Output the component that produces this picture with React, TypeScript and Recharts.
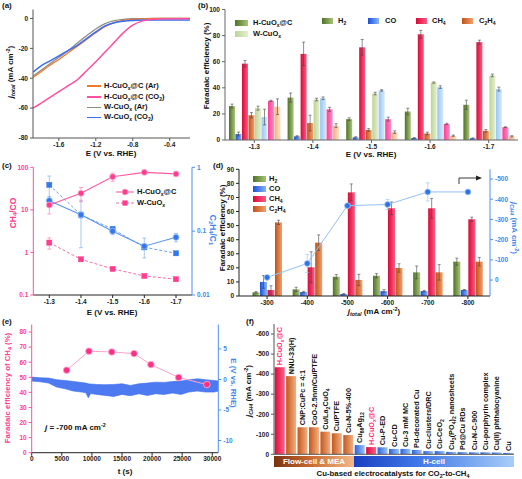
import React from 'react';
import { LineChart, Line, BarChart, Bar, ComposedChart, Area, XAxis, YAxis, ErrorBar, LabelList, Cell } from 'recharts';

const FONT = '"Liberation Sans", Arial, Helvetica, sans-serif';

// ---------- (a) LSV curves ----------
const lsvPotential = [-1.88, -1.8, -1.7, -1.6, -1.5, -1.4, -1.3, -1.2, -1.1, -1.0, -0.9, -0.8, -0.7, -0.6, -0.5, -0.4, -0.3, -0.18];
const lsvH_CO2 = [-60, -57, -53, -49, -45, -41, -35, -29, -22.5, -16, -9.5, -4.5, -1.8, -0.7, -0.3, -0.2, -0.2, -0.2];
const lsvH_Ar = [-39.5, -36, -31.5, -27.5, -23, -18.5, -14, -9.5, -5.5, -2.8, -1.3, -0.6, -0.3, -0.1, 0, 0, 0, 0];
const lsvW_Ar = [-38.5, -35, -30.5, -26, -21.5, -16.5, -11.5, -7, -3.5, -1.5, -0.6, -0.2, -0.1, 0, 0, 0, 0, 0];
const lsvW_CO2 = [-36, -32, -28.5, -25, -21.5, -18, -13.5, -9, -5, -2.8, -1.8, -1.3, -1.1, -1.1, -1.1, -1.1, -1.1, -1.1];
const lsvXTicks = [-1.6, -1.2, -0.8, -0.4];
const lsvYTicks = [-80, -60, -40, -20, 0];

// ---------- (b) FE vs potential ----------
const potentialsB = ['-1.3', '-1.4', '-1.5', '-1.6', '-1.7'];
const feH_H2 = [26, 32.5, 16, 21.8, 27];
const feH_CO = [4.6, 2.8, 2, 1.5, 1.3];
const feH_CH4 = [58.5, 66, 71, 81, 75];
const feH_C2H4 = [19, 13, 7.7, 5, 7];
const feW_H2 = [24.4, 31, 35.6, 44, 49.5];
const feW_CO = [17.6, 32, 38, 40.5, 39];
const feW_CH4 = [30, 23.5, 16, 12.3, 9.8];
const feW_C2H4 = [25.5, 11, 6, 3.3, 2.8];
const errH_H2 = [1.5, 3.5, 1, 2.5, 3.5];
const errH_CO = [1.5, 0.5, 0.5, 0.3, 0.3];
const errH_CH4 = [2.5, 9, 6, 3, 1.5];
const errH_C2H4 = [2, 6, 1, 1, 1];
const errW_H2 = [1.5, 1, 1, 0.5, 1];
const errW_CO = [6, 1, 0.5, 1, 1.5];
const errW_CH4 = [0.5, 1.5, 1.5, 0.5, 0.3];
const errW_C2H4 = [6, 1.5, 1, 0.5, 0.5];
const feTicksB = [0, 20, 40, 60, 80, 100];

// ---------- (c) product ratios ----------
const potentialsC = ['-1.3', '-1.4', '-1.5', '-1.6', '-1.7'];
const ratioCH4CO_H = [13, 24.5, 60, 76, 70];
const ratioCH4CO_W = [1.7, 0.69, 0.41, 0.28, 0.235];
const ratioC2C1_H = [0.3, 0.18, 0.1, 0.058, 0.08];
const ratioC2C1_W = [0.53, 0.18, 0.108, 0.056, 0.045];
const errCH4CO_H = [5, 9, 13, 6, 4];
const errCH4CO_W = [0.5, 0.05, 0.03, 0.02, 0.015];
const errC2C1_H = [0.05, 0.125, 0.012, 0.02, 0.012];
const errC2C1_W = [0.2, 0.02, 0.01, 0.005, 0.003];
const ratioTicksL = [0.1, 1, 10, 100];
const ratioTicksR = [0.01, 0.1, 1];

// ---------- (d) FE vs total current ----------
const jTotal = ['-300', '-400', '-500', '-600', '-700', '-800'];
const feD_H2 = [2.6, 4.7, 13.7, 14.4, 16.8, 24.4];
const feD_CO = [10, 2.8, 1.4, 3.5, 3.5, 4.3];
const feD_CH4 = [4.3, 20.4, 73.6, 62.3, 62.3, 54.5];
const feD_C2H4 = [52.3, 37.9, 11.4, 19.9, 16.8, 24.4];
const errD_H2 = [0.5, 1.5, 1.5, 1.5, 4.5, 2.5];
const errD_CO = [4.5, 0.5, 0.3, 1, 0.5, 0.3];
const errD_CH4 = [3, 11, 6, 4.5, 7, 1.5];
const errD_C2H4 = [1.5, 5.5, 4, 3, 5.5, 3];
const jCH4D = [-13, -82, -368, -374, -436, -436];
const errJCH4D = [0, 45, 0, 25, 45, 0];
const feTicksD = [0, 10, 20, 30, 40, 50, 60, 70, 80, 90];
const jTicksD = [0, -100, -200, -300, -400, -500];

// ---------- (e) stability ----------
const feTime = [5800, 9500, 13300, 17000, 19800, 24400, 29100];
const feCH4Stab = [54.7, 67.3, 66.8, 65.7, 58.4, 49.9, 45.2];
const eTime = [0, 1400, 2800, 4150, 5550, 6900, 8300, 9000, 9400, 9800, 10800, 12200, 13600, 15000, 16400, 17800, 19200, 20600, 22000, 23400, 24800, 26100, 27500, 28900, 30300, 31000];
const eHigh = [0.38, 0.27, 0.22, -0.05, -0.16, -0.33, -0.49, -0.6, -0.71, -0.75, -0.82, -0.87, -0.82, -0.71, -0.98, -0.71, -0.6, -0.44, -0.49, -0.33, -0.27, -0.05, 0.1, -0.05, -0.16, -0.27];
const eLow = [-0.27, -0.38, -0.6, -1.25, -1.53, -1.9, -2.07, -2.2, -3.0, -2.3, -2.45, -2.62, -2.78, -2.45, -2.67, -2.35, -2.62, -2.35, -2.45, -2.24, -2.45, -2.07, -1.9, -2.07, -2.07, -1.9];
const timeTicks = [0, 5000, 10000, 15000, 20000, 25000, 30000];
const feTicksE = [0, 10, 20, 30, 40, 50, 60, 70, 80];
const eTicksE = [-10, -5, 0, 5];

// ---------- (f) literature comparison ----------
const catalysts = ['H-CuO{x}@C', 'NNU-33(H)', 'CNP:CuPc = 4:1', 'CoO-2.5nm/Cu/PTFE', 'Cu/La{2}CuO{4}', 'Cu/PTFE', 'Cu-N-5%-400', 'Cu{88}Ag{12}', 'H-CuO{x}@C', 'Cu-P-ED', 'Cu-CD', 'Cu-3 mM MC', 'Pd-decorated Cu', 'Cu-clusters/DRC', 'Cu-CeO{2}', 'Cu{3}(PO{4}){2} nanosheets', 'Pd@Cu RDs', 'Cu-N-C-900', 'Cu-porphyrin complex', 'Cu(II) phthalocyanine', 'Cu'];
const jCH4Lit = [-434, -390, -135, -135, -113, -105, -96, -46, -36, -35, -27, -27, -22, -16, -16, -12, -11, -10, -10, -9, -7];
const cellType = ['flow', 'flow', 'flow', 'flow', 'flow', 'flow', 'flow', 'h', 'h', 'h', 'h', 'h', 'h', 'h', 'h', 'h', 'h', 'h', 'h', 'h', 'h'];
const isThisWork = [true, false, false, false, false, false, false, false, true, false, false, false, false, false, false, false, false, false, false, false, false];
const jTicksF = [-600, -500, -400, -300, -200, -100, 0];

// ---------- rows ----------
const rowsA = lsvPotential.map((v, i) => ({ v, hCO2: lsvH_CO2[i], hAr: lsvH_Ar[i], wAr: lsvW_Ar[i], wCO2: lsvW_CO2[i] }));
const rowsB = potentialsB.map((p, i) => ({
  p,
  hH2: feH_H2[i], hCO: feH_CO[i], hCH4: feH_CH4[i], hC2H4: feH_C2H4[i],
  wH2: feW_H2[i], wCO: feW_CO[i], wCH4: feW_CH4[i], wC2H4: feW_C2H4[i],
  ehH2: errH_H2[i], ehCO: errH_CO[i], ehCH4: errH_CH4[i], ehC2H4: errH_C2H4[i],
  ewH2: errW_H2[i], ewCO: errW_CO[i], ewCH4: errW_CH4[i], ewC2H4: errW_C2H4[i],
}));
const rowsC = potentialsC.map((p, i) => ({
  p, hR: ratioCH4CO_H[i], wR: ratioCH4CO_W[i], hC: ratioC2C1_H[i], wC: ratioC2C1_W[i],
  ehR: errCH4CO_H[i], ewR: errCH4CO_W[i], ehC: errC2C1_H[i], ewC: errC2C1_W[i],
}));
const rowsD = jTotal.map((j, i) => ({
  j, H2: feD_H2[i], CO: feD_CO[i], CH4: feD_CH4[i], C2H4: feD_C2H4[i],
  eH2: errD_H2[i], eCO: errD_CO[i], eCH4: errD_CH4[i], eC2H4: errD_C2H4[i],
  jc: jCH4D[i], ejc: errJCH4D[i],
}));
const rowsFE = feTime.map((t, i) => ({ t, fe: feCH4Stab[i] }));
const rowsE = eTime.map((t, i) => ({ t, band: [eLow[i], eHigh[i]] }));
const rowsF = catalysts.map((name, i) => ({ i, name, j: jCH4Lit[i], type: cellType[i], own: isThisWork[i] }));

// ---------- styles ----------
const TS = { fontSize: 6.5, fontWeight: 700, fill: '#222', fontFamily: FONT };
const PINK = '#ff4f9c';
const BLUE = '#4f8ff0';
const tsPink = { ...TS, fill: '#ff3d8f' };
const tsBlue = { ...TS, fill: '#3f86f0' };

const Grad = ({ id, a, b }: any) => (
  <linearGradient id={id} x1="0" y1="0" x2="1" y2="0">
    <stop offset="0" stopColor={a} />
    <stop offset="1" stopColor={b} />
  </linearGradient>
);

const Sub = ({ children }: any) => <span style={{ fontSize: '0.68em', verticalAlign: '-0.28em', lineHeight: 0 }}>{children}</span>;
const Sup = ({ children }: any) => <span style={{ fontSize: '0.68em', verticalAlign: '0.5em', lineHeight: 0 }}>{children}</span>;

function T({ x, y, children, size = 8, color = '#111', rot = 0, align = 'center', weight = 700 }: any) {
  const tx = align === 'center' ? '-50%' : '0';
  return (
    <div
      style={{
        position: 'absolute', left: x, top: y, transform: `translate(${tx}, -50%) rotate(${rot}deg)`,
        whiteSpace: 'nowrap', fontSize: size, color, fontWeight: weight, fontFamily: FONT, lineHeight: 1,
      }}
    >
      {children}
    </div>
  );
}

function richSvg(s: string, fs: number) {
  const parts = s.split(/(\{[^}]*\})/).filter(Boolean);
  const d = fs * 0.28;
  let down = false;
  return parts.map((p, i) => {
    const isSub = p.startsWith('{');
    const txt = isSub ? p.slice(1, -1) : p;
    let dy = 0;
    if (isSub && !down) { dy = d; down = true; } else if (!isSub && down) { dy = -d; down = false; }
    return <tspan key={i} dy={dy} fontSize={isSub ? fs * 0.7 : fs}>{txt}</tspan>;
  });
}

const renderCatLabel = (p: any) => {
  const { x, y, width, height, value, index } = p;
  const top = Math.min(Number(y), Number(y) + Number(height));
  const fs = 7.3;
  const cx = Number(x) + Number(width) / 2 + fs * 0.36;
  const cy = top - 2;
  return (
    <text key={`l${index}`} x={cx} y={cy} transform={`rotate(-90 ${cx} ${cy})`} fontSize={fs} fontWeight={700}
      fill={isThisWork[index] ? '#ff2a7a' : '#111'} fontFamily={FONT}>
      {richSvg(String(value), fs)}
    </text>
  );
};

const squareDot = (fill: string) => (p: any) => (
  <rect key={`s${p.index}`} x={p.cx - 2.6} y={p.cy - 2.6} width={5.2} height={5.2} fill={fill} stroke={fill} strokeWidth={0.4} />
);

const LegIcon = ({ x, y, w = 13, h = 6, fill }: any) => (
  <div style={{ position: 'absolute', left: x, top: y - h / 2, width: w, height: h, background: fill }} />
);

const seriesB = [
  { k: 'hH2', e: 'ehH2', g: 'bH2' }, { k: 'hCO', e: 'ehCO', g: 'bCO' }, { k: 'hCH4', e: 'ehCH4', g: 'bCH4' }, { k: 'hC2H4', e: 'ehC2H4', g: 'bC2' },
  { k: 'wH2', e: 'ewH2', g: 'bwH2' }, { k: 'wCO', e: 'ewCO', g: 'bwCO' }, { k: 'wCH4', e: 'ewCH4', g: 'bwCH4' }, { k: 'wC2H4', e: 'ewC2H4', g: 'bwC2' },
];
const seriesD = [
  { k: 'H2', e: 'eH2', g: 'dH2' }, { k: 'CO', e: 'eCO', g: 'dCO' }, { k: 'CH4', e: 'eCH4', g: 'dCH4' }, { k: 'C2H4', e: 'eC2H4', g: 'dC2' },
];

const G_H2 = 'linear-gradient(90deg,#4f7326,#a9c47a)';
const G_CO = 'linear-gradient(90deg,#1c4fd6,#86b6f7)';
const G_CH4 = 'linear-gradient(90deg,#d8093a,#ff5a80)';
const G_C2 = 'linear-gradient(90deg,#c0521b,#f4a06a)';
const G_WH2 = 'linear-gradient(90deg,#bcd495,#e6efd2)';

export default function App() {
  return (
    <div style={{ position: 'absolute', left: 0, top: 0, width: 522, height: 479, background: '#fff', overflow: 'hidden', fontFamily: FONT }}>
      {/* (a) */}
      <div style={{ position: 'absolute', left: 0, top: 0 }}>
        <LineChart width={200} height={160} data={rowsA} margin={{ top: 9.5, right: 10, bottom: 10, left: 0 }}>
          <XAxis dataKey="v" type="number" domain={[-1.88, -0.18]} ticks={lsvXTicks} tick={TS} tickSize={3} tickMargin={1} height={12} stroke="#555" allowDataOverflow />
          <XAxis xAxisId="top" orientation="top" type="number" domain={[-1.88, -0.18]} tick={false} tickLine={false} height={0} stroke="#555" />
          <YAxis type="number" domain={[-80, 6]} ticks={lsvYTicks} tick={TS} tickSize={3} width={33} stroke="#555" allowDataOverflow />
          <YAxis yAxisId="r" orientation="right" type="number" domain={[-80, 6]} tick={false} tickLine={false} width={0} stroke="#555" />
          <Line dataKey="wAr" type="monotone" stroke="#8d8d82" strokeWidth={1.3} dot={false} isAnimationActive={false} />
          <Line dataKey="hAr" type="monotone" stroke="#f07a2a" strokeWidth={1.3} dot={false} isAnimationActive={false} />
          <Line dataKey="wCO2" type="monotone" stroke="#3a6df0" strokeWidth={1.5} dot={false} isAnimationActive={false} />
          <Line dataKey="hCO2" type="monotone" stroke="#ff4fa0" strokeWidth={1.5} dot={false} isAnimationActive={false} />
        </LineChart>
      </div>

      {/* (b) */}
      <div style={{ position: 'absolute', left: 200, top: 0 }}>
        <BarChart width={322} height={160} data={rowsB} margin={{ top: 9.5, right: 4, bottom: 7, left: 0 }} barCategoryGap={4} barGap={0.5}>
          <defs>
            <Grad id="bH2" a="#4f7326" b="#a9c47a" />
            <Grad id="bCO" a="#1c4fd6" b="#86b6f7" />
            <Grad id="bCH4" a="#d8093a" b="#ff5a80" />
            <Grad id="bC2" a="#c0521b" b="#f4a06a" />
            <Grad id="bwH2" a="#bcd495" b="#e6efd2" />
            <Grad id="bwCO" a="#98c6f5" b="#d6e9fd" />
            <Grad id="bwCH4" a="#ff3d94" b="#ff8cc4" />
            <Grad id="bwC2" a="#f2b07e" b="#fde1c9" />
          </defs>
          <XAxis dataKey="p" tick={TS} tickSize={3} tickMargin={1} height={13} stroke="#666" />
          <XAxis xAxisId="top" orientation="top" dataKey="p" tick={false} tickLine={false} height={0} stroke="#666" />
          <YAxis type="number" domain={[0, 100]} ticks={feTicksB} tick={TS} tickSize={3} width={25} stroke="#666" />
          <YAxis yAxisId="r" orientation="right" type="number" domain={[0, 100]} tick={false} tickLine={false} width={0} stroke="#666" />
          {seriesB.map((s) => (
            <Bar key={s.k} dataKey={s.k} fill={`url(#${s.g})`} isAnimationActive={false}>
              <ErrorBar dataKey={s.e} width={1.5} stroke="#444" strokeWidth={0.6} />
            </Bar>
          ))}
        </BarChart>
      </div>

      {/* (c) */}
      <div style={{ position: 'absolute', left: 0, top: 160 }}>
        <LineChart width={230} height={160} data={rowsC} margin={{ top: 7.3, right: 16, bottom: 12, left: 0 }}>
          <XAxis dataKey="p" tick={TS} tickSize={3} tickMargin={1} height={13} stroke="#222" padding={{ left: 16, right: 16 }} />
          <YAxis yAxisId="l" type="number" scale="log" domain={[0.1, 100]} ticks={ratioTicksL} tick={tsPink} tickSize={3} width={33.3} stroke={PINK} allowDataOverflow tickFormatter={(v: number) => String(v)} />
          <YAxis yAxisId="r" orientation="right" type="number" scale="log" domain={[0.01, 1]} ticks={ratioTicksR} tick={tsBlue} tickSize={3} width={22} stroke={BLUE} allowDataOverflow tickFormatter={(v: number) => String(v)} />
          <Line yAxisId="r" dataKey="wC" stroke="#6ea2f2" strokeDasharray="3 2" strokeWidth={1} dot={squareDot('#3577e8')} isAnimationActive={false}>
            <ErrorBar dataKey="ewC" width={2} stroke="#6ea2f2" strokeWidth={0.6} />
          </Line>
          <Line yAxisId="r" dataKey="hC" stroke="#5a95f0" strokeWidth={1.1} dot={{ r: 3, fill: '#3577e8', stroke: '#9cc2f8', strokeWidth: 0.8 }} isAnimationActive={false}>
            <ErrorBar dataKey="ehC" width={2} stroke="#6ea2f2" strokeWidth={0.6} />
          </Line>
          <Line yAxisId="l" dataKey="wR" stroke="#ff6aaa" strokeDasharray="3 2" strokeWidth={1} dot={squareDot('#ff3d8f')} isAnimationActive={false}>
            <ErrorBar dataKey="ewR" width={2} stroke="#ff6aaa" strokeWidth={0.6} />
          </Line>
          <Line yAxisId="l" dataKey="hR" stroke="#ff5aa2" strokeWidth={1.1} dot={{ r: 3, fill: '#ff3d8f', stroke: '#ffb0d0', strokeWidth: 0.8 }} isAnimationActive={false}>
            <ErrorBar dataKey="ehR" width={2} stroke="#ff6aaa" strokeWidth={0.6} />
          </Line>
        </LineChart>
      </div>

      {/* (d) */}
      <div style={{ position: 'absolute', left: 210, top: 160 }}>
        <ComposedChart width={312} height={160} data={rowsD} margin={{ top: 9.3, right: 8, bottom: 12, left: 0 }} barCategoryGap={5.5} barGap={0.5}>
          <defs>
            <Grad id="dH2" a="#4f7326" b="#a9c47a" />
            <Grad id="dCO" a="#1c4fd6" b="#86b6f7" />
            <Grad id="dCH4" a="#d8093a" b="#ff5a80" />
            <Grad id="dC2" a="#c0521b" b="#f4a06a" />
          </defs>
          <XAxis dataKey="j" tick={TS} tickSize={3} tickMargin={1} height={12} stroke="#222" padding={{ left: 8, right: 2 }} />
          <XAxis xAxisId="top" orientation="top" dataKey="j" tick={false} tickLine={false} height={0} stroke="#444" />
          <YAxis yAxisId="l" type="number" domain={[0, 90]} ticks={feTicksD} tick={TS} tickSize={3} width={29} stroke="#222" />
          <YAxis yAxisId="r" orientation="right" type="number" domain={[-548, 79]} reversed ticks={jTicksD} tick={tsBlue} tickSize={3} width={24} stroke={BLUE} allowDataOverflow />
          {seriesD.map((s) => (
            <Bar key={s.k} yAxisId="l" dataKey={s.k} fill={`url(#${s.g})`} isAnimationActive={false}>
              <ErrorBar dataKey={s.e} width={1.5} stroke="#444" strokeWidth={0.6} />
            </Bar>
          ))}
          <Line yAxisId="r" dataKey="jc" stroke="#93c0f4" strokeWidth={1} dot={{ r: 3, fill: '#2e74e6', stroke: '#b8d6fa', strokeWidth: 0.8 }} isAnimationActive={false}>
            <ErrorBar dataKey="ejc" width={2} stroke="#93c0f4" strokeWidth={0.6} />
          </Line>
        </ComposedChart>
      </div>

      {/* (e) */}
      <div style={{ position: 'absolute', left: 0, top: 320 }}>
        <ComposedChart width={250} height={159} margin={{ top: 4.5, right: 11.7, bottom: 14.3, left: 0 }}>
          <XAxis dataKey="t" type="number" domain={[0, 31000]} ticks={timeTicks} tick={TS} tickSize={3} tickMargin={1} height={12} stroke="#222" allowDataOverflow />
          <YAxis yAxisId="l" type="number" domain={[0, 85]} ticks={feTicksE} tick={tsPink} tickSize={3} width={31.7} stroke={PINK} />
          <YAxis yAxisId="r" orientation="right" type="number" domain={[-12, 9]} ticks={eTicksE} tick={tsBlue} tickSize={3} width={20} stroke={BLUE} />
          <Area yAxisId="r" data={rowsE} dataKey="band" type="linear" stroke="#3a6cf0" strokeWidth={0.6} fill="#3a6cf0" fillOpacity={0.9} dot={false} activeDot={false} isAnimationActive={false} />
          <Line yAxisId="l" data={rowsFE} dataKey="fe" stroke="#ffa3c9" strokeWidth={1} dot={{ r: 3.3, fill: '#ff2f86', stroke: '#ffb3d2', strokeWidth: 0.8 }} isAnimationActive={false} />
        </ComposedChart>
      </div>

      {/* (f) */}
      <div style={{ position: 'absolute', left: 250, top: 320 }}>
        <BarChart width={272} height={159} data={rowsF} margin={{ top: 4, right: 8, bottom: 23.7, left: 0 }} barCategoryGap={0.7}>
          <defs>
            <Grad id="fOwn" a="#dd0a3e" b="#ff5f86" />
            <Grad id="fFlow" a="#c4571c" b="#f2b184" />
            <Grad id="fH" a="#2c62de" b="#9cc4f4" />
          </defs>
          <XAxis dataKey="i" tick={false} tickLine={false} height={1} stroke="#555" />
          <XAxis xAxisId="top" orientation="top" dataKey="i" tick={false} tickLine={false} height={0} stroke="#555" />
          <YAxis type="number" domain={[-650, 0]} reversed ticks={jTicksF} tick={TS} tickSize={3} width={24} stroke="#555" />
          <YAxis yAxisId="r" orientation="right" type="number" domain={[-650, 0]} reversed tick={false} tickLine={false} width={0} stroke="#555" />
          <Bar dataKey="j" isAnimationActive={false}>
            {rowsF.map((r) => (
              <Cell key={r.i} fill={r.own ? 'url(#fOwn)' : r.type === 'flow' ? 'url(#fFlow)' : 'url(#fH)'} />
            ))}
            <LabelList dataKey="name" content={renderCatLabel} />
          </Bar>
        </BarChart>
      </div>

      {/* ---------- text & legends ---------- */}
      {/* (a) */}
      <T x={2} y={6} align="left">(a)</T>
      <T x={11} y={72} rot={-90}><i>j</i><Sub><i>total</i></Sub> (mA cm<Sup>-2</Sup>)</T>
      <T x={111} y={154}>E (V vs. RHE)</T>
      <div style={{ position: 'absolute', left: 87, top: 85.3, width: 14, height: 1.5, background: '#f07a2a' }} />
      <div style={{ position: 'absolute', left: 87, top: 96, width: 14, height: 1.5, background: '#ff4fa0' }} />
      <div style={{ position: 'absolute', left: 87, top: 106.6, width: 14, height: 1.5, background: '#8d8d82' }} />
      <div style={{ position: 'absolute', left: 87, top: 116.6, width: 14, height: 1.5, background: '#3a6df0' }} />
      <T x={104} y={86} align="left" size={7.5}>H-CuO<Sub>x</Sub>@C (Ar)</T>
      <T x={104} y={96.7} align="left" size={7.5}>H-CuO<Sub>x</Sub>@C (CO<Sub>2</Sub>)</T>
      <T x={104} y={107.3} align="left" size={7.5}>W-CuO<Sub>x</Sub> (Ar)</T>
      <T x={104} y={117.3} align="left" size={7.5}>W-CuO<Sub>x</Sub> (CO<Sub>2</Sub>)</T>

      {/* (b) */}
      <T x={198} y={6} align="left">(b)</T>
      <T x={207} y={66} rot={-90}>Faradaic efficiency (%)</T>
      <T x={371} y={155}>E (V vs. RHE)</T>
      <LegIcon x={235} y={22.5} fill={G_H2} />
      <LegIcon x={235} y={34} fill={G_WH2} />
      <T x={253} y={22.5} align="left" size={7.5}>H-CuO<Sub>x</Sub>@C</T>
      <T x={253} y={34} align="left" size={7.5}>W-CuO<Sub>x</Sub></T>
      <LegIcon x={322} y={21} w={11} fill={G_H2} />
      <T x={338} y={21} align="left" size={7.5}>H<Sub>2</Sub></T>
      <LegIcon x={368} y={21} w={11} fill={G_CO} />
      <T x={385} y={21} align="left" size={7.5}>CO</T>
      <LegIcon x={416} y={21} w={11} fill={G_CH4} />
      <T x={432} y={21} align="left" size={7.5}>CH<Sub>4</Sub></T>
      <LegIcon x={462} y={21} w={11} fill={G_C2} />
      <T x={479} y={21} align="left" size={7.5}>C<Sub>2</Sub>H<Sub>4</Sub></T>

      {/* (c) */}
      <T x={2} y={166} align="left">(c)</T>
      <T x={13} y={213} rot={-90} color="#ff3d8f" size={8.5}>CH<Sub>4</Sub>/CO</T>
      <T x={213} y={230} rot={90} color="#3f86f0" size={8.5}>C<Sub>2</Sub>H<Sub>4</Sub>/C<Sub>1</Sub></T>
      <T x={112} y={313}>E (V vs. RHE)</T>
      <svg style={{ position: 'absolute', left: 114, top: 186 }} width={22} height={22}>
        <line x1={2} y1={6} x2={20} y2={6} stroke="#ff5aa2" strokeWidth={1.1} />
        <circle cx={11} cy={6} r={3} fill="#ff3d8f" stroke="#ffb0d0" strokeWidth={0.8} />
        <line x1={2} y1={17} x2={20} y2={17} stroke="#ff6aaa" strokeWidth={1} strokeDasharray="3 2" />
        <rect x={8.4} y={14.4} width={5.2} height={5.2} fill="#ff3d8f" />
      </svg>
      <T x={137} y={192} align="left" size={7.5}>H-CuO<Sub>x</Sub>@C</T>
      <T x={137} y={203} align="left" size={7.5}>W-CuO<Sub>x</Sub></T>

      {/* (d) */}
      <T x={213} y={166} align="left">(d)</T>
      <T x={223} y={228} rot={-90}>Faradaic efficiency (%)</T>
      <T x={514} y={228} rot={90} color="#3f86f0"><i>j</i><Sub><i>CH4</i></Sub> (mA cm<Sup>-2</Sup>)</T>
      <T x={374} y={312}><i>j</i><Sub><i>total</i></Sub> (mA cm<Sup>-2</Sup>)</T>
      <LegIcon x={253} y={179} fill={G_H2} />
      <T x={269} y={179} align="left" size={7.5}>H<Sub>2</Sub></T>
      <LegIcon x={253} y={189} fill={G_CO} />
      <T x={269} y={189} align="left" size={7.5}>CO</T>
      <LegIcon x={253} y={199} fill={G_CH4} />
      <T x={269} y={199} align="left" size={7.5}>CH<Sub>4</Sub></T>
      <LegIcon x={253} y={209} fill={G_C2} />
      <T x={269} y={209} align="left" size={7.5}>C<Sub>2</Sub>H<Sub>4</Sub></T>
      <svg style={{ position: 'absolute', left: 455, top: 173 }} width={30} height={14}>
        <polyline points="4,11 4,5 22,5" stroke="#222" fill="none" strokeWidth={0.9} />
        <polygon points="21,2.5 27,5 21,7.5" fill="#222" />
      </svg>

      {/* (e) */}
      <T x={2} y={322} align="left">(e)</T>
      <T x={8} y={388} rot={-90} color="#ff3d8f" size={7.8}>Faradaic efficiency of CH<Sub>4</Sub> (%)</T>
      <T x={233} y={383} rot={90} color="#3f86f0" size={7.8}>E (V vs. RHE)</T>
      <T x={125} y={472}>t (s)</T>
      <T x={45} y={428} align="left" size={8}><i>j</i> = -700 mA cm<Sup>-2</Sup></T>

      {/* (f) */}
      <T x={246} y={322} align="left">(f)</T>
      <T x={249} y={391} rot={-90}><i>j</i><Sub><i>CH4</i></Sub> (mA cm<Sup>-2</Sup>)</T>
      <div style={{ position: 'absolute', left: 274, top: 456, width: 80, height: 11, background: 'linear-gradient(90deg,#7a3210,#c86a30 45%,#f3b98a)' }} />
      <div style={{ position: 'absolute', left: 354, top: 456, width: 160, height: 11, background: 'linear-gradient(90deg,#1a3fc0,#3f78e8 40%,#a8cdf8)' }} />
      <T x={314} y={461.5} color="#fff" size={8}>Flow-cell &amp; MEA</T>
      <T x={434} y={461.5} color="#fff" size={8}>H-cell</T>
      <T x={393} y={474} size={7.8}>Cu-based electrocatalysts for CO<Sub>2</Sub>-to-CH<Sub>4</Sub></T>
    </div>
  );
}
